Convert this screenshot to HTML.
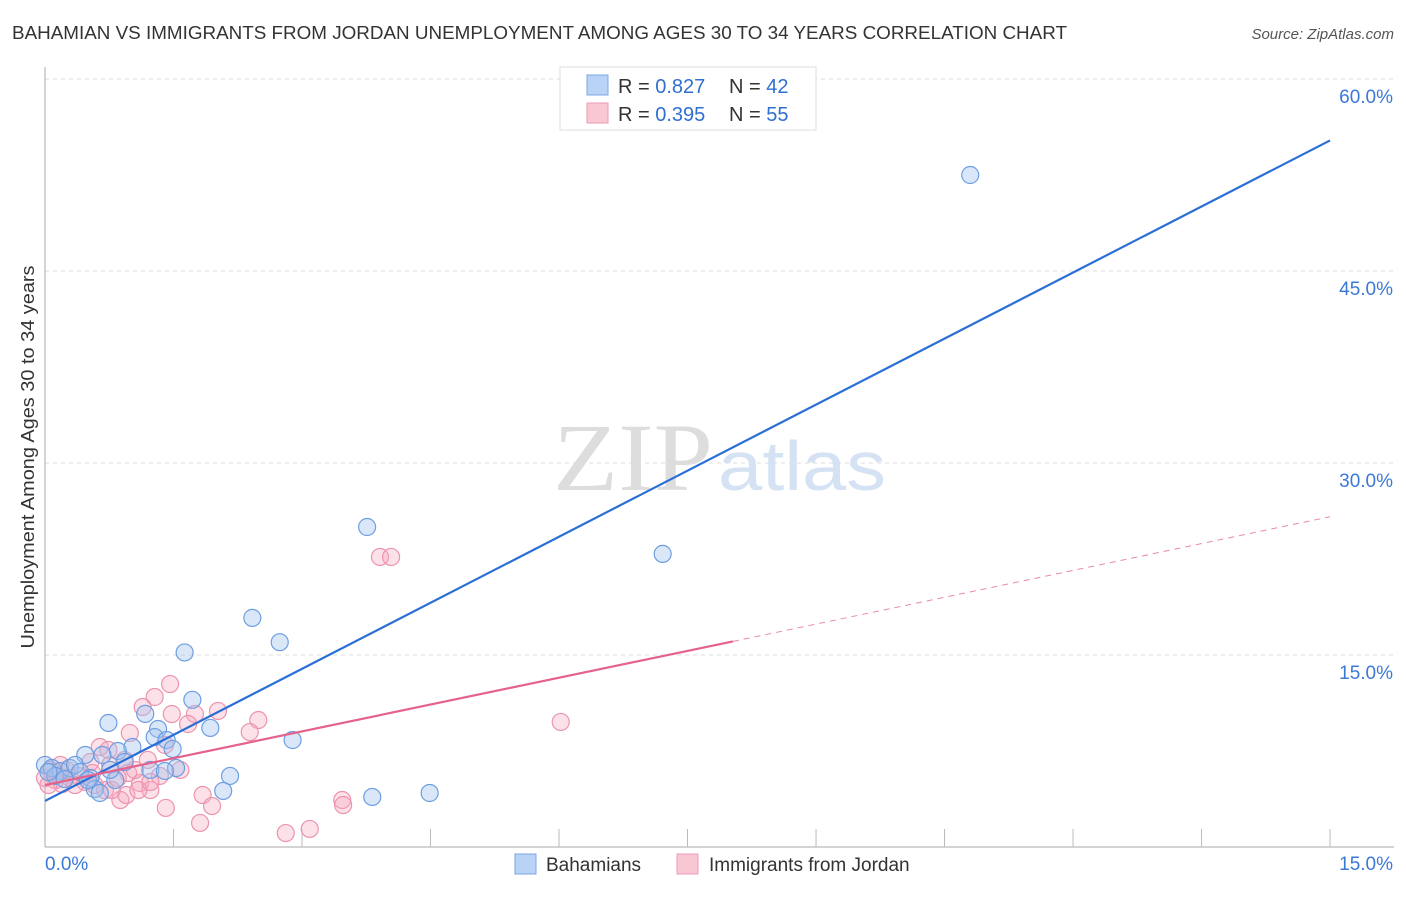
<!DOCTYPE html>
<html><head><meta charset="utf-8"><style>
body{margin:0;background:#fff;font-family:"Liberation Sans",sans-serif}
</style></head><body>
<svg id="chart" width="1406" height="892" xmlns="http://www.w3.org/2000/svg" font-family="Liberation Sans, sans-serif">
<text x="12" y="39" font-size="18" fill="#333" textLength="1055" lengthAdjust="spacingAndGlyphs">BAHAMIAN VS IMMIGRANTS FROM JORDAN UNEMPLOYMENT AMONG AGES 30 TO 34 YEARS CORRELATION CHART</text>
<text x="1394" y="39" font-size="15" fill="#555" text-anchor="end" font-style="italic">Source: ZipAtlas.com</text>
<g id="grid"></g>
<g>
<text x="553" y="490" font-size="96" font-family="Liberation Serif, serif" fill="#ddd" textLength="160" lengthAdjust="spacingAndGlyphs">ZIP</text>
<text x="718" y="490" font-size="70" fill="#d4e2f4" textLength="168" lengthAdjust="spacingAndGlyphs">atlas</text>
</g>
<text transform="translate(34,457) rotate(-90)" font-size="18" fill="#333" text-anchor="middle" textLength="383" lengthAdjust="spacingAndGlyphs">Unemployment Among Ages 30 to 34 years</text>
<g id="marks"></g>
<g id="lines"></g>
<g>
<rect x="560" y="67" width="256" height="63" fill="#fff" stroke="#ddd"/>
<rect x="587" y="75" width="21" height="20" fill="#b8d3f5" stroke="#7aa7e6"/>
<rect x="587" y="103" width="21" height="20" fill="#f9c6d4" stroke="#ee9ab3"/>
<text x="618" y="93" font-size="20" fill="#333">R = <tspan fill="#2f6fd0">0.827</tspan></text>
<text x="729" y="93" font-size="20" fill="#333">N = <tspan fill="#2f6fd0">42</tspan></text>
<text x="618" y="121" font-size="20" fill="#333">R = <tspan fill="#2f6fd0">0.395</tspan></text>
<text x="729" y="121" font-size="20" fill="#333">N = <tspan fill="#2f6fd0">55</tspan></text>
</g>
<g>
<rect x="515" y="854" width="21" height="20" fill="#b8d3f5" stroke="#7aa7e6"/>
<text x="546" y="871" font-size="19" fill="#333">Bahamians</text>
<rect x="677" y="854" width="21" height="20" fill="#f9c6d4" stroke="#ee9ab3"/>
<text x="709" y="871" font-size="19" fill="#333">Immigrants from Jordan</text>
</g>
</svg>
<script>
const xTicks=[0,1.5,3,4.5,6,7.5,9,10.5,12,13.5,15];
const yTicks=[15,30,45,60];
const yTickLabels=["15.0%","30.0%","45.0%","60.0%"];
const blueX=[10.80,3.76,7.21,2.42,2.74,1.63,1.72,0.74,1.17,1.93,1.32,1.28,1.42,1.49,1.02,0.85,0.47,0.67,2.89,0.93,1.53,1.23,2.16,2.08,3.82,4.49,0,0.08,0.18,0.29,0.35,0.41,0.53,0.58,0.64,0.82,1.40,0.12,0.23,0.04,0.76,0.50];
const blueY=[52.5,25.0,22.9,17.9,16.0,15.2,11.5,9.69,10.4,9.30,9.22,8.59,8.36,7.66,7.81,7.50,7.19,7.19,8.36,6.64,6.17,6.02,5.55,4.38,3.91,4.22,6.41,6.17,5.94,6.17,6.41,5.86,5.39,4.53,4.22,5.23,5.94,5.55,5.31,5.86,6.02,5.23];
const pinkX=[3.91,4.04,6.02,1.46,1.28,1.14,1.75,1.48,2.02,2.49,2.39,1.67,0.99,0.64,0.74,1.40,0.93,1.20,0.76,0.97,1.11,1.34,0.85,1.23,0.70,0.88,0.95,1.41,1.84,1.95,1.81,2.81,3.09,3.47,3.48,0.12,0.20,0.29,0.39,0.47,0.55,0.06,0,0.04,0.15,0.25,0.35,0.58,1.09,0.78,1.05,1.58,0.53,0.18,1.23];
const pinkY=[22.66,22.66,9.77,12.73,11.72,10.94,10.39,10.39,10.63,9.92,8.98,9.61,8.91,7.81,7.58,7.97,6.80,6.80,6.41,5.78,5.00,5.55,5.39,4.45,4.45,3.67,4.06,3.05,4.06,3.20,1.88,1.09,1.41,3.67,3.28,5.23,4.92,5.39,5.55,5.08,5.78,6.02,5.39,4.84,5.63,6.02,4.84,4.84,4.45,4.45,6.02,6.02,6.64,6.41,5.08];
const blueFit=[3.6,55.2];
const pinkFit=[4.84,25.8];
const pinkSolidEnd=8.03;
const NS="http://www.w3.org/2000/svg";
const X=v=>45+v*85.67, Y=v=>847-v*12.8;
function mk(t,a,p){const e=document.createElementNS(NS,t);for(const k in a)e.setAttribute(k,a[k]);p.appendChild(e);return e;}
const grid=document.getElementById('grid');
yTicks.forEach((t,i)=>{
 const l=mk('line',{x1:45,x2:1394,y1:Y(t),y2:Y(t),stroke:'#ddd','stroke-dasharray':'4,4'},grid);
 
 
 const tx=mk('text',{x:1393,y:Y(t)+24,'font-size':19,fill:'#3b78d8','text-anchor':'end'},grid);
 tx.textContent=yTickLabels[i];
 
 
});
const ax=mk('line',{x1:45,x2:45,y1:67,y2:847,stroke:'#aaa'},grid);


const bx=mk('line',{x1:45,x2:1394,y1:847,y2:847,stroke:'#aaa'},grid);


xTicks.forEach((t,i)=>{if(i>0){const l=mk('line',{x1:X(t),x2:X(t),y1:829,y2:847,stroke:'#bbb'},grid);
 
 }});
const x0=mk('text',{x:45,y:870,'font-size':19,fill:'#3b78d8'},grid);x0.textContent="0.0%";


const x1=mk('text',{x:1393,y:870,'font-size':19,fill:'#3b78d8','text-anchor':'end'},grid);x1.textContent="15.0%";


const marks=document.getElementById('marks');
pinkX.forEach((v,i)=>{const c=mk('circle',{cx:X(v),cy:Y(pinkY[i]),r:8.5,fill:'rgba(246,170,192,0.35)',stroke:'#ec94ae','stroke-width':1.2},marks);
 
 });
blueX.forEach((v,i)=>{const c=mk('circle',{cx:X(v),cy:Y(blueY[i]),r:8.5,fill:'rgba(160,195,240,0.4)',stroke:'#6e9ee0','stroke-width':1.2},marks);
 
 });
const lines=document.getElementById('lines');
const pf=x=>pinkFit[0]+(pinkFit[1]-pinkFit[0])*x/15;
const bl=mk('line',{x1:X(0),y1:Y(blueFit[0]),x2:X(15),y2:Y(blueFit[1]),stroke:'#2a6fd6','stroke-width':2.2},lines);


const pl=mk('line',{x1:X(0),y1:Y(pf(0)),x2:X(pinkSolidEnd),y2:Y(pf(pinkSolidEnd)),stroke:'#e4628c','stroke-width':2.2},lines);


const pd=mk('line',{x1:X(pinkSolidEnd),y1:Y(pf(pinkSolidEnd)),x2:X(15),y2:Y(pf(15)),stroke:'#e98aa8','stroke-width':1,'stroke-dasharray':'6,5'},lines);


</script>
</body></html>
